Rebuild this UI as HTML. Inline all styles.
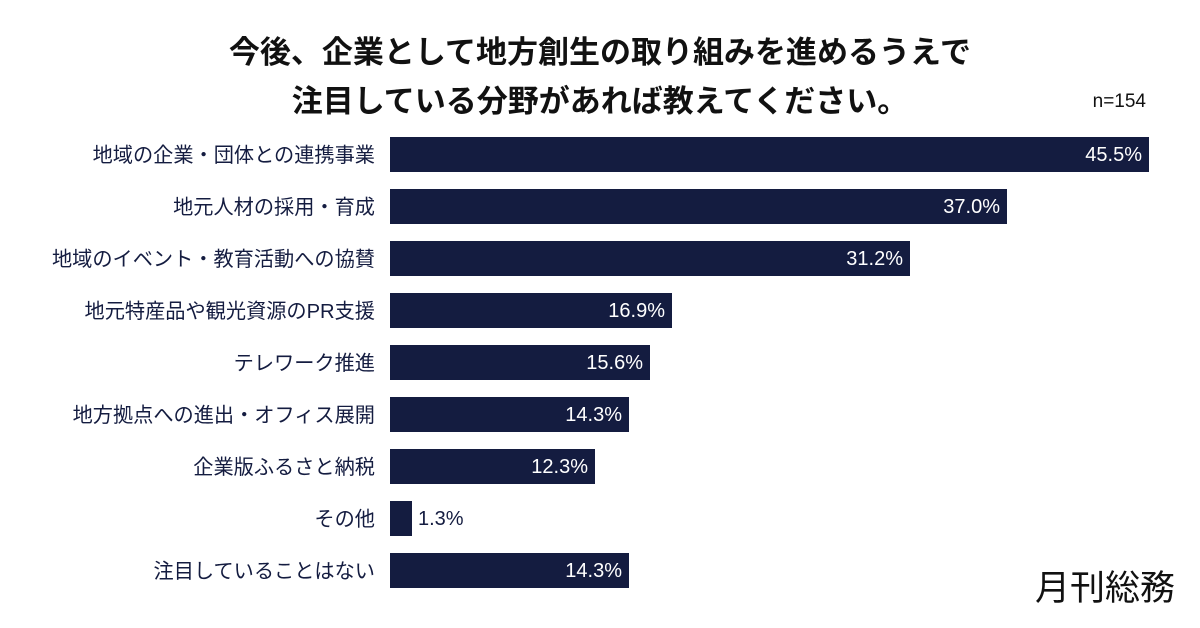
<!DOCTYPE html>
<html><head><meta charset="utf-8"><style>
body{margin:0;width:1200px;height:628px;background:#fff;position:relative;overflow:hidden;font-family:"Liberation Sans","Noto Sans CJK JP",sans-serif;color:#141c40}
.t{position:absolute;left:0;width:1200px;text-align:center;font-size:31px;font-weight:bold;color:#111}
.l{position:absolute;right:825px;font-size:20.2px;height:35px;line-height:35px;padding-top:2px;white-space:nowrap;color:#141c40}
.b{position:absolute;left:390px;height:35px;background:#141c40;color:#fff;font-size:20px;line-height:37px;text-align:right;box-sizing:border-box;padding-right:7px}
.v{position:absolute;font-size:20px;line-height:37px;color:#141c40}
</style></head><body>
<div class="t" style="top:27px">今後、企業として地方創生の取り組みを進めるうえで</div>
<div class="t" style="top:76px">注目している分野があれば教えてください。</div>
<div style="position:absolute;right:54px;top:91px;font-size:19px;color:#111">n=154</div>

<div class="l" style="top:137px">地域の企業・団体との連携事業</div><div class="b" style="top:137px;width:759px">45.5%</div>
<div class="l" style="top:189px">地元人材の採用・育成</div><div class="b" style="top:189px;width:617px">37.0%</div>
<div class="l" style="top:241px">地域のイベント・教育活動への協賛</div><div class="b" style="top:241px;width:520px">31.2%</div>
<div class="l" style="top:293px">地元特産品や観光資源のPR支援</div><div class="b" style="top:293px;width:282px">16.9%</div>
<div class="l" style="top:345px">テレワーク推進</div><div class="b" style="top:345px;width:260px">15.6%</div>
<div class="l" style="top:397px">地方拠点への進出・オフィス展開</div><div class="b" style="top:397px;width:239px">14.3%</div>
<div class="l" style="top:449px">企業版ふるさと納税</div><div class="b" style="top:449px;width:205px">12.3%</div>
<div class="l" style="top:501px">その他</div><div class="b" style="top:501px;width:22px"></div><div class="v" style="top:501px;left:418px">1.3%</div>
<div class="l" style="top:553px">注目していることはない</div><div class="b" style="top:553px;width:239px">14.3%</div>

<div style="position:absolute;left:1035px;top:560px;font-size:35px;color:#111">月刊総務</div>
</body></html>
